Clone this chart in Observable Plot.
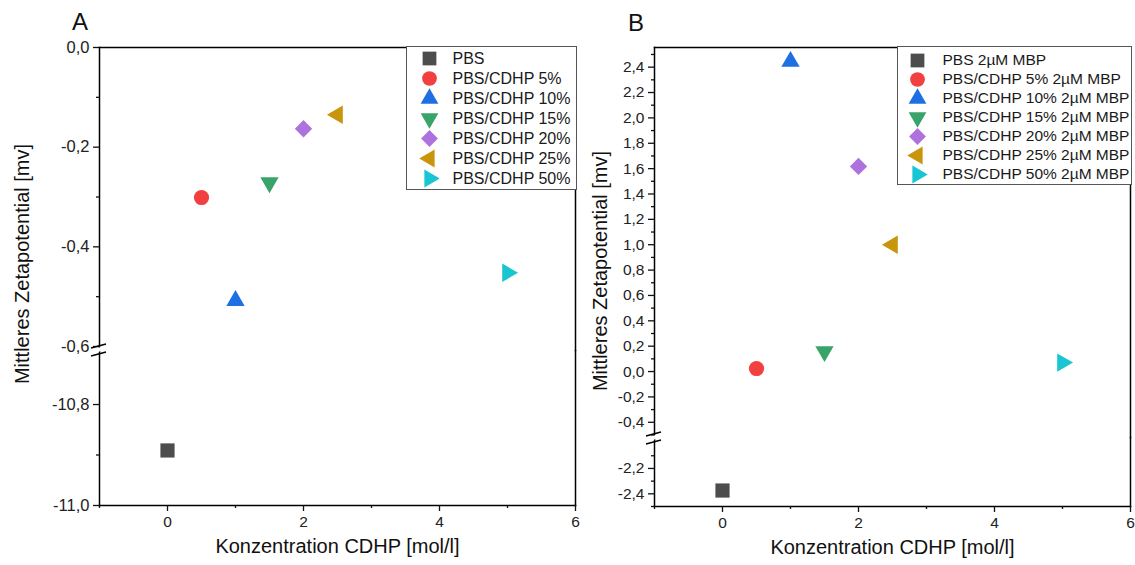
<!DOCTYPE html>
<html><head><meta charset="utf-8">
<script src="https://cdn.jsdelivr.net/npm/d3@7"></script>
<script src="https://cdn.jsdelivr.net/npm/@observablehq/plot@0.6"></script>
<style>
body{margin:0;background:#fff;font-family:"Liberation Sans",Arial,sans-serif;}
#root{position:relative;width:1135px;height:565px;overflow:hidden;background:#fff;}
#root > svg{position:absolute;}
.ylab{position:absolute;font-size:20px;color:#111;white-space:nowrap;transform:translate(-50%,-50%) rotate(-90deg);}
.title{position:absolute;font-size:24px;color:#111;transform:translate(-50%,0);}
.legend{position:absolute;border:1px solid #555;}
</style></head><body><div id="root"></div>
<script>
// ---------- data ----------
const concentrations = [0, 0.5, 1, 1.5, 2, 2.5, 5];
const seriesA = ["PBS", "PBS/CDHP 5%", "PBS/CDHP 10%", "PBS/CDHP 15%", "PBS/CDHP 20%", "PBS/CDHP 25%", "PBS/CDHP 50%"];
const zetaA = [-10.891, -0.301, -0.508, -0.271, -0.163, -0.135, -0.452];
const seriesB = ["PBS 2µM MBP", "PBS/CDHP 5% 2µM MBP", "PBS/CDHP 10% 2µM MBP", "PBS/CDHP 15% 2µM MBP", "PBS/CDHP 20% 2µM MBP", "PBS/CDHP 25% 2µM MBP", "PBS/CDHP 50% 2µM MBP"];
const zetaB = [-2.374, 0.024, 2.445, 0.158, 1.617, 1.0, 0.071];

const xTicksMajor = [0, 2, 4, 6];
const xTicksMinor = [-1, 1, 3, 5];
const yTicksAUpper = [0, -0.2, -0.4, -0.6];
const yMinorAUpper = [-0.1, -0.3, -0.5];
const yTicksALower = [-10.8, -11.0];
const yMinorALower = [-10.9];
const yTicksBUpper = [-0.4, -0.2, 0, 0.2, 0.4, 0.6, 0.8, 1.0, 1.2, 1.4, 1.6, 1.8, 2.0, 2.2, 2.4];
const yMinorBUpper = [-0.5, -0.3, -0.1, 0.1, 0.3, 0.5, 0.7, 0.9, 1.1, 1.3, 1.5, 1.7, 1.9, 2.1, 2.3, 2.5];
const yTicksBLower = [-2.4, -2.2];
const yMinorBLower = [-2.5, -2.3, -2.1];

const xLabel = "Konzentration CDHP [mol/l]";
const yLabel = "Mittleres Zetapotential [mv]";

// ---------- styles ----------
const colors = ["#4d4d4d", "#f23f3f", "#1e6fe3", "#39a46a", "#ae72de", "#c9960b", "#17c5d3"];
function tri(angle) {
  return {draw(ctx, size) {
    const s = Math.sqrt(size * 4 / Math.sqrt(3));
    const R = s / Math.sqrt(3);
    for (let i = 0; i < 3; i++) {
      const a = angle + i * 2 * Math.PI / 3;
      const x = R * Math.cos(a), y = R * Math.sin(a);
      if (i) ctx.lineTo(x, y); else ctx.moveTo(x, y);
    }
    ctx.closePath();
  }};
}
const symbols = ["square", "circle", tri(-Math.PI / 2), tri(Math.PI / 2), "diamond2", tri(Math.PI), tri(0)];
const radii = [8, 7.6, 6.8, 6.8, 7.8, 6.8, 6.8];

const locale = d3.formatLocale({decimal: ",", thousands: ".", grouping: [3], currency: ["", ""], minus: "-"});
const fmtY = locale.format(".1f");
const fmtX = locale.format("d");
const noText = () => "";

const root = document.getElementById("root");
const baseStyle = {fontFamily: "'Liberation Sans', Arial, sans-serif", fontSize: "15px", color: "#111", overflow: "visible", background: "transparent"};

function rows(names, values) {
  return names.map((n, i) => ({name: n, x: concentrations[i], y: values[i], i}));
}

function segment(cfg) {
  const marks = [];
  cfg.data.forEach(d => {
    if (d.y >= cfg.yDomain[0] && d.y <= cfg.yDomain[1]) {
      marks.push(Plot.dot([d], {x: "x", y: "y", symbol: symbols[d.i], fill: colors[d.i], r: radii[d.i], stroke: "none"}));
    }
  });
  marks.push(Plot.frame({anchor: "left", stroke: "#000", strokeWidth: 1.5}));
  marks.push(Plot.frame({anchor: "right", stroke: "#000", strokeWidth: 1.5}));
  marks.push(Plot.frame({anchor: cfg.lower ? "bottom" : "top", stroke: "#000", strokeWidth: 1.5}));
  marks.push(Plot.axisY({ticks: cfg.major, tickSize: 6, tickFormat: noText, label: null, strokeWidth: 1.3}));
  marks.push(Plot.axisY({ticks: cfg.minor, tickSize: 3, tickFormat: noText, label: null, strokeWidth: 1.3}));
  marks.push(Plot.text(cfg.major, {y: d => d, text: d => fmtY(d), frameAnchor: "left", dx: -10, textAnchor: "end", fontSize: cfg.tickFont, fill: "#222"}));
  if (cfg.lower) {
    marks.push(Plot.axisX({ticks: xTicksMajor, tickSize: 6, tickFormat: noText, label: null, strokeWidth: 1.3}));
    marks.push(Plot.axisX({ticks: xTicksMinor, tickSize: 3, tickFormat: noText, label: null, strokeWidth: 1.3}));
    marks.push(Plot.text(xTicksMajor, {x: d => d, text: d => fmtX(d), frameAnchor: "bottom", dy: 21, fontSize: 15.5, fill: "#222"}));
    marks.push(Plot.text([xLabel], {text: d => d, frameAnchor: "bottom", dy: 47, fontSize: 20, fill: "#111"}));
  }
  const svg = Plot.plot({
    width: cfg.width, height: cfg.height,
    marginLeft: cfg.marginLeft, marginRight: cfg.marginRight,
    marginTop: cfg.marginTop, marginBottom: cfg.marginBottom,
    x: {domain: [-1, 6], axis: null},
    y: {domain: cfg.yDomain, axis: null},
    style: baseStyle,
    marks
  });
  svg.style.left = cfg.left + "px";
  svg.style.top = cfg.top + "px";
  root.appendChild(svg);
}

function legend(cfg) {
  const data = cfg.names.map((n, i) => ({name: n, i}));
  const marks = [];
  data.forEach(d => marks.push(Plot.dot([d], {frameAnchor: "left", dx: cfg.symX, y: "name", symbol: symbols[d.i], fill: colors[d.i], r: radii[d.i] * 0.97, stroke: "none"})));
  marks.push(Plot.text(data, {frameAnchor: "left", dx: cfg.textX, y: "name", text: "name", textAnchor: "start", fontSize: cfg.fontSize, fontWeight: 400, fill: "#1a1a1a"}));
  const svg = Plot.plot({
    width: cfg.width, height: cfg.height,
    marginLeft: 0, marginRight: 0, marginTop: cfg.padTop, marginBottom: cfg.padBottom,
    y: {type: "point", domain: cfg.names, padding: 0, axis: null},
    style: {...baseStyle, background: "#fff"},
    marks
  });
  svg.classList.add("legend");
  svg.style.left = cfg.left + "px";
  svg.style.top = cfg.top + "px";
  root.appendChild(svg);
}

function brk(x, y) {
  const s = d3.create("svg").attr("width", 30).attr("height", 30)
    .style("left", (x - 15) + "px").style("top", (y - 15) + "px").style("overflow", "visible");
  // gap in the axis line, then two parallel slashes
  s.append("polygon").attr("points", "7,19 22,11 22,15 7,23").attr("transform", "translate(0,-2)").attr("fill", "#fff");
  s.append("line").attr("x1", 7).attr("y1", 13).attr("x2", 22).attr("y2", 9).attr("stroke", "#000").attr("stroke-width", 1.5);
  s.append("line").attr("x1", 7).attr("y1", 21).attr("x2", 22).attr("y2", 17).attr("stroke", "#000").attr("stroke-width", 1.5);
  root.appendChild(s.node());
}

const dataA = rows(seriesA, zetaA);
const dataB = rows(seriesB, zetaB);

// Panel A
segment({data: dataA, left: 0, top: 0, width: 590, height: 350, marginLeft: 99, marginRight: 15, marginTop: 47, marginBottom: 0,
  yDomain: [-0.608, 0], major: yTicksAUpper, minor: yMinorAUpper, lower: false, tickFont: 16.5});
segment({data: dataA, left: 0, top: 350, width: 590, height: 215, marginLeft: 99, marginRight: 15, marginTop: 0, marginBottom: 60,
  yDomain: [-11.0, -10.693], major: yTicksALower, minor: yMinorALower, lower: true, tickFont: 16.5});
brk(99, 350);
legend({names: seriesA, left: 406, top: 46, width: 169, height: 142, padTop: 11, padBottom: 11, symX: 22, textX: 45, fontSize: 16});

// Panel B
segment({data: dataB, left: 560, top: 0, width: 575, height: 437, marginLeft: 94, marginRight: 5, marginTop: 47, marginBottom: 0,
  yDomain: [-0.52, 2.555], major: yTicksBUpper, minor: yMinorBUpper, lower: false, tickFont: 15.5});
segment({data: dataB, left: 560, top: 437, width: 575, height: 128, marginLeft: 94, marginRight: 5, marginTop: 0, marginBottom: 59,
  yDomain: [-2.5, -1.956], major: yTicksBLower, minor: yMinorBLower, lower: true, tickFont: 15.5});
brk(654, 438);
legend({names: seriesB, left: 897, top: 46, width: 233, height: 137, padTop: 11, padBottom: 9, symX: 19, textX: 44, fontSize: 15.5});

// Titles and y labels
function html(cls, text, x, y) {
  const d = document.createElement("div");
  d.className = cls; d.textContent = text;
  d.style.left = x + "px"; d.style.top = y + "px";
  root.appendChild(d);
}
html("title", "A", 80, 8);
html("title", "B", 636, 9);
html("ylab", yLabel, 22, 264);
html("ylab", yLabel, 600, 271);
</script>
</body></html>
